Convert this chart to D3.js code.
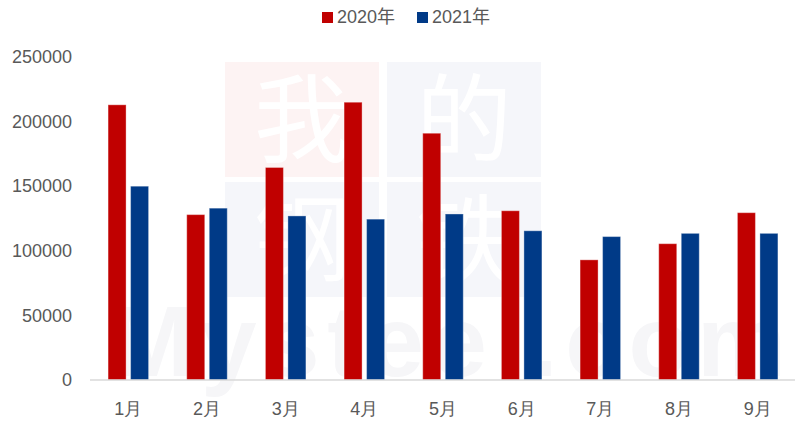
<!DOCTYPE html>
<html>
<head>
<meta charset="utf-8">
<script src="https://cdn.jsdelivr.net/npm/d3@7"></script>
<style>
  html, body { margin: 0; padding: 0; background: #fff; }
  svg { display: block; font-family: "Liberation Sans", Arial, "Noto Sans CJK SC", sans-serif; }
</style>
</head>
<body>
<div id="chart"></div>
<script>
const months = ["1月", "2月", "3月", "4月", "5月", "6月", "7月", "8月", "9月"];
const seriesNames = ["2020年", "2021年"];
const values2020 = [213000, 128000, 164500, 215000, 191000, 131000, 93000, 105500, 129500];
const values2021 = [150000, 133000, 127000, 124500, 128500, 115500, 111000, 113500, 113500];
const yTicks = [0, 50000, 100000, 150000, 200000, 250000];
const colors = ["#C00000", "#003A87"];

const width = 795;
const height = 421;

const svg = d3.select("#chart")
    .append("svg")
    .attr("width", width)
    .attr("height", height);

// faint watermark behind the plot
const wm = svg.append("g").attr("class", "watermark");
const wmBoxes = [
    { x: 225, y: 62, ch: "我", fill: "#fdf3f3" },
    { x: 387, y: 62, ch: "的", fill: "#f5f6fa" },
    { x: 225, y: 182, ch: "钢", fill: "#f5f6fa" },
    { x: 387, y: 182, ch: "铁", fill: "#f5f6fa" },
];
wm.selectAll("rect")
    .data(wmBoxes)
    .join("rect")
    .attr("x", d => d.x)
    .attr("y", d => d.y)
    .attr("width", 154)
    .attr("height", 115)
    .attr("fill", d => d.fill);
wm.selectAll("text.ch")
    .data(wmBoxes)
    .join("text")
    .attr("class", "ch")
    .attr("x", d => d.x + 77)
    .attr("y", d => d.y + 92)
    .attr("text-anchor", "middle")
    .style("font-family", "'Noto Sans CJK SC', sans-serif")
    .style("font-size", "96px")
    .attr("fill", "#fff")
    .text(d => d.ch);
wm.append("text")
    .attr("x", 110)
    .attr("y", 376)
    .attr("textLength", 676)
    .attr("lengthAdjust", "spacing")
    .style("font-size", "100px")
    .style("font-weight", "bold")
    .attr("fill", "#f6f6f8")
    .text("Mysteel.com");

const x0 = d3.scaleBand()
    .domain(months)
    .range([89, 797])
    .paddingInner(0.485)
    .paddingOuter(0.2425);

const x1 = d3.scaleBand()
    .domain(seriesNames)
    .range([0, x0.bandwidth()])
    .paddingInner(0.2);

const y = d3.scaleLinear()
    .domain([0, 250000])
    .range([380, 57]);

// y axis labels
const yAxis = svg.append("g")
    .attr("transform", "translate(72,0)")
    .call(d3.axisLeft(y).tickValues(yTicks).tickSize(0).tickPadding(0).tickFormat(d3.format("d")));
yAxis.select(".domain").remove();
yAxis.selectAll("text")
    .attr("fill", "#595959")
    .style("font-size", "18px");

// bars
const rows = months.map((m, i) => ({ month: m, vals: [values2020[i], values2021[i]] }));
svg.append("g")
    .selectAll("g")
    .data(rows)
    .join("g")
    .attr("transform", d => `translate(${x0(d.month)},0)`)
    .selectAll("rect")
    .data(d => d.vals.map((v, k) => ({ key: seriesNames[k], v, k })))
    .join("rect")
    .attr("x", d => x1(d.key))
    .attr("y", d => y(d.v))
    .attr("width", x1.bandwidth())
    .attr("height", d => y(0) - y(d.v))
    .attr("fill", d => colors[d.k])
    .attr("stroke", "rgba(255,255,255,0.35)")
    .attr("stroke-width", 1);

// x axis
const xAxis = svg.append("g")
    .attr("transform", "translate(0,380)")
    .call(d3.axisBottom(x0).tickSize(0).tickPadding(22));
xAxis.select(".domain")
    .attr("stroke", "#d9d9d9")
    .attr("stroke-width", 1.5)
    .attr("d", "M90,0H795");
xAxis.selectAll("text")
    .attr("fill", "#595959")
    .style("font-size", "18px");

// legend
const legend = svg.append("g");
const legendX = [322, 417];
const items = legend.selectAll("g")
    .data(seriesNames)
    .join("g")
    .attr("transform", (d, i) => `translate(${legendX[i]},12)`);
items.append("rect")
    .attr("width", 11)
    .attr("height", 11)
    .attr("fill", (d, i) => colors[i]);
items.append("text")
    .attr("x", 15)
    .attr("y", 11)
    .attr("fill", "#595959")
    .style("font-size", "18px")
    .text(d => d);
</script>
</body>
</html>
